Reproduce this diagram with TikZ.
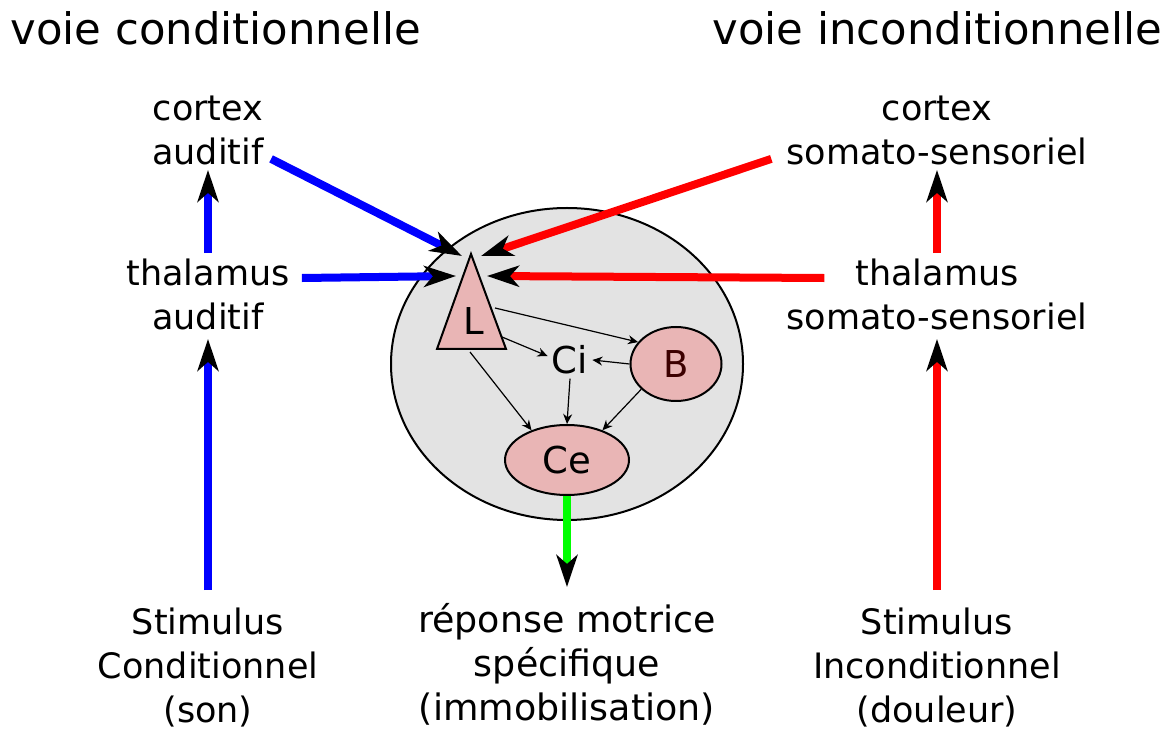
\documentclass[tikz,border=0pt]{standalone}
\usepackage{fontspec}
\setmainfont{DejaVu Sans}
\usetikzlibrary{arrows.meta,calc,shapes.geometric}
\definecolor{pinkc}{RGB}{233,181,181}
\definecolor{grayc}{RGB}{227,227,227}
\definecolor{bluec}{RGB}{0,0,255}
\definecolor{redc}{RGB}{255,0,0}
\definecolor{greenc}{RGB}{0,255,0}
\definecolor{bcol}{RGB}{60,0,0}
\begin{document}
\begin{tikzpicture}[x=0.5pt,y=-0.5pt,
 lbl/.style={align=center,inner sep=0pt,anchor=base,font=\fontsize{17.5}{22}\selectfont},
 ttl/.style={inner sep=0pt,anchor=base west,font=\fontsize{21.7}{26}\selectfont},
 big/.style={line width=4pt,-{Stealth[black,length=16pt,width=10.5pt,inset=4.5pt]}},
 thinarr/.style={line width=0.6pt,-{Stealth[length=5pt,width=4.5pt]}},
 pinkshape/.style={fill=pinkc,draw=black,line width=1pt},
 inner/.style={font=\fontsize{18.5}{22}\selectfont}]
\useasboundingbox (0,0) rectangle (1172,731);

% titles
\node[ttl] (t1) at (10,45) {voie conditionnelle};
\node[ttl] (t2) at (712,45) {voie inconditionnelle};

% text nodes (anchor base = baseline of last line)
\node[lbl] (ca) at (208,165) {cortex\\auditif};
\node[lbl] (ta) at (208,330) {thalamus\\auditif};
\node[lbl] (sc) at (208,722) {Stimulus\\Conditionnel\\(son)};
\node[lbl] (cs) at (937,165) {cortex\\somato-sensoriel};
\node[lbl] (ts) at (937,330) {thalamus\\somato-sensoriel};
\node[lbl] (si) at (937,722) {Stimulus\\Inconditionnel\\(douleur)};
\node[lbl,font=\fontsize{18.2}{22}\selectfont] (rm) at (567,720) {réponse motrice\\spécifique\\(immobilisation)};

% amygdala
\node[draw=black,fill=grayc,line width=1pt,ellipse,minimum width=176pt,minimum height=156pt,inner sep=0pt] (amy) at (567,364) {};
\path[pinkshape] (471,254) coordinate (apex) -- (437,349) coordinate (bl) -- (506,349) coordinate (br) -- cycle;
\node[inner] (L) at (474,321) {L};
\node[pinkshape,ellipse,minimum width=45.5pt,minimum height=37pt,inner sep=0pt,text=bcol,inner] (B) at (676,364) {B};
\node[pinkshape,ellipse,minimum width=62pt,minimum height=35pt,inner sep=0pt,inner] (Ce) at (567,460) {Ce};
\node[inner,inner sep=2pt] (Ci) at (570,360) {Ci};

\coordinate (Lb) at (495,308);
\coordinate (Lci) at (502,337);
\coordinate (Lce) at (470,352);

\draw[thinarr] (Lb) -- (B.150);
\draw[thinarr] (Lci) -- (Ci.170);
\draw[thinarr] (B.180) -- (Ci.east);
\draw[thinarr] (Ci.south) -- (Ce.north);
\draw[thinarr] (Lce) -- (Ce.140);
\draw[thinarr] (B.216) -- (Ce.40);

% thick arrows
\coordinate (tipBD) at (462,256);
\coordinate (tipBH) at (456,276);
\coordinate (tipRD) at (481,256);
\coordinate (tipRH) at (487,276);
\coordinate (tipG) at (567,587);

\draw[big,bluec] ([yshift=8.5pt]sc.north) -- ([yshift=-4pt]ta.south);
\draw[big,bluec] ([yshift=3pt]ta.north) -- ([yshift=-2pt]ca.south);
\draw[big,bluec] ([shift={(7,-7)}]ca.south east) -- (tipBD);
\draw[big,bluec] ([shift={(12,19)}]ta.north east) -- (tipBH);
\draw[big,redc] ([yshift=8.5pt]si.north) -- ([yshift=-4pt]ts.south);
\draw[big,redc] ([yshift=3pt]ts.north) -- ([yshift=-2pt]cs.south);
\draw[big,redc] ([shift={(-15,-7)}]cs.south west) -- (tipRD);
\draw[big,redc] ([shift={(38,19)}]ts.north west) -- (tipRH);
\draw[big,greenc] (Ce.south) -- (tipG);
\end{tikzpicture}
\end{document}
